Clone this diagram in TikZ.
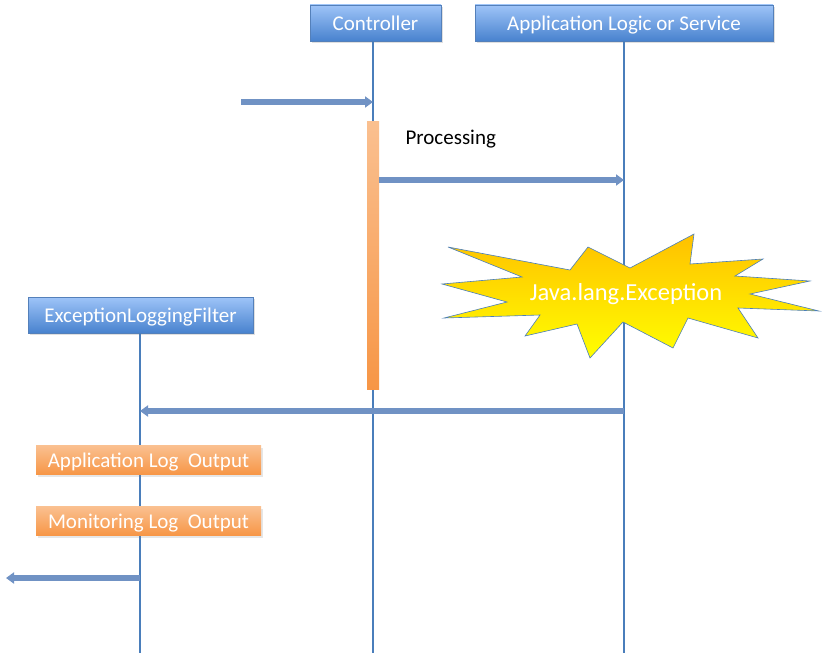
\documentclass[tikz,border=0pt]{standalone}
\usepackage{fontspec}
\setmainfont{Carlito}
\usetikzlibrary{arrows.meta,shadows}

\definecolor{boxtop}{RGB}{158,196,248}
\definecolor{boxbot}{RGB}{72,130,206}
\definecolor{boxline}{RGB}{84,128,186}
\definecolor{orgtop}{RGB}{250,192,144}
\definecolor{orgbot}{RGB}{247,150,70}
\definecolor{lifeblue}{RGB}{74,126,187}
\definecolor{arrblue}{RGB}{112,146,196}
\definecolor{burstgold}{RGB}{255,192,0}

\begin{document}
\begin{tikzpicture}[
  x=1pt, y=-1pt, font=\fontsize{21}{24}\selectfont,
  obj/.style={draw=boxline, line width=0.8pt, top color=boxtop, bottom color=boxbot,
              text=white, minimum height=36pt, inner sep=0pt,
              text height=17pt, text depth=2.5pt,
              drop shadow={opacity=0.25, shadow xshift=1.5pt, shadow yshift=-2pt}},
  logbox/.style={top color=orgtop, bottom color=orgbot, text=white,
              minimum width=225pt, minimum height=29pt, inner sep=0pt,
              text height=17pt, text depth=2.5pt,
              drop shadow={opacity=0.2, shadow xshift=1.5pt, shadow yshift=-2pt}},
  life/.style={draw=lifeblue, line width=1.6pt},
  msg/.style={draw=arrblue, line width=5.5pt,
              -{Triangle[length=8pt, width=11pt, fill=arrblue]}},
]
\useasboundingbox (0,0) rectangle (826,661);

% participants
\node[obj, minimum width=131pt] (ctrl) at (375.5,23) {Controller};
\node[obj, minimum width=298pt] (svc) at (624,23) {Application Logic or Service};
\node[obj, minimum width=225pt] (filter) at (140.5,315) {ExceptionLoggingFilter};

% lifelines
\coordinate (ctrlend) at (373,653);
\coordinate (svcend) at (624,653);
\coordinate (filterend) at (140,653);
\draw[life] (ctrl.south -| ctrlend) -- (ctrlend);
\draw[life] (svc.south -| svcend) -- (svcend);
\draw[life] (filter.south -| filterend) -- (filterend);

% activation
\shade[top color=orgtop, bottom color=orgbot] (367,121) rectangle (379,389);
\node[anchor=west] (proc) at (402,139) {Processing};

% exception burst
\draw[draw=lifeblue, line width=0.6pt, top color=burstgold, bottom color=yellow]
  (448,247) -- (570,270) -- (588,247) -- (630,268) -- (694,234) -- (690,264)
  -- (763,259) -- (735,276) -- (810,281) -- (750,294) -- (819,311) -- (738,308)
  -- (758,338) -- (688,318) -- (673,348) -- (623,322) -- (590,358) -- (577,324)
  -- (525,336) -- (540,315) -- (444,318) -- (507,302) -- (442,284) -- (522,277)
  -- cycle;
\node[text=white, font=\fontsize{24.5}{28}\selectfont] (exc) at (626,294) {Java.lang.Exception};

% log outputs
\node[logbox] (applog) at (148.5,460) {Application Log~ Output};
\node[logbox] (monlog) at (148.5,521) {Monitoring Log~ Output};

% messages
\coordinate (req) at (241,102);
\coordinate (call) at (379,180);
\coordinate (ret) at (624,411);
\coordinate (out) at (140,578);
\coordinate (resp) at (6,578);
\draw[msg] (req) -- (req -| ctrlend);
\draw[msg] (call) -- (call -| svcend);
\draw[msg] (ret) -- (ret -| filterend);
\draw[msg] (out) -- (resp);

\end{tikzpicture}
\end{document}
